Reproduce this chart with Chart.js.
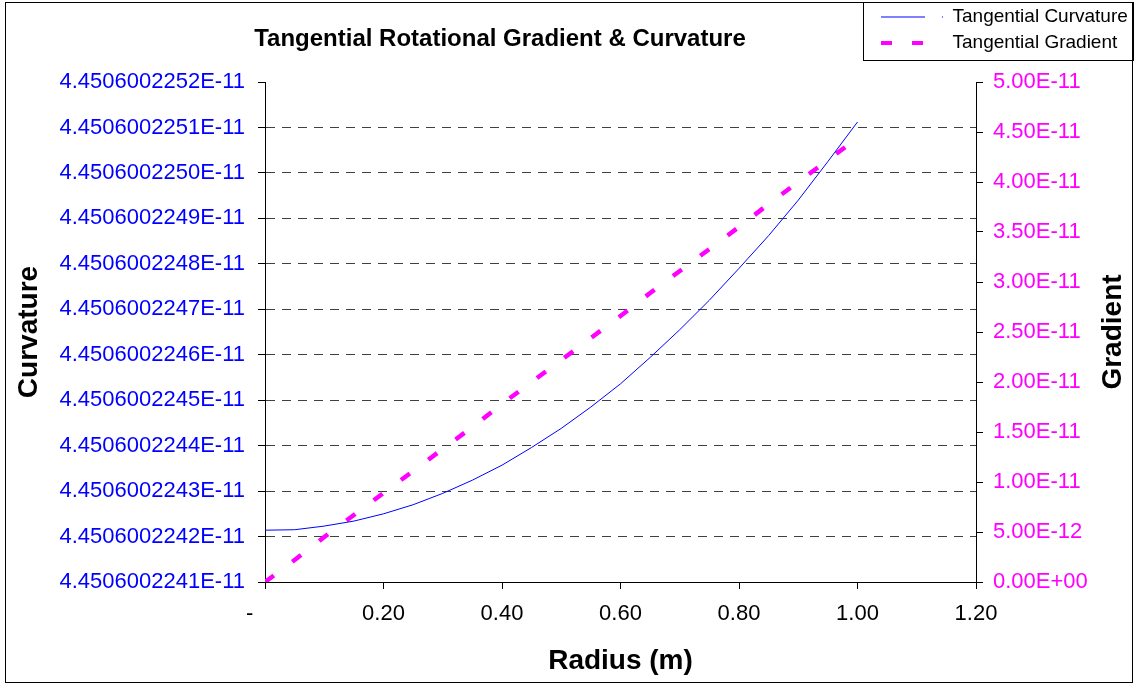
<!DOCTYPE html>
<html>
<head>
<meta charset="utf-8">
<script src="https://cdn.jsdelivr.net/npm/chart.js@4/dist/chart.umd.min.js"></script>
<style>
  html, body { margin: 0; padding: 0; background: #fff; }
  canvas { display: block; }
</style>
</head>
<body>
<canvas id="chart" width="1134" height="685"></canvas>
<script>
/* Tangential Rotational Gradient & Curvature */

const chartTitle = 'Tangential Rotational Gradient & Curvature';
const xAxisTitle = 'Radius (m)';
const leftAxisTitle = 'Curvature';
const rightAxisTitle = 'Gradient';

// radius (m)
const radius = [0.00, 0.05, 0.10, 0.15, 0.20, 0.25, 0.30, 0.35, 0.40, 0.45, 0.50,
                0.55, 0.60, 0.65, 0.70, 0.75, 0.80, 0.85, 0.90, 0.95, 1.00];

// Tangential Curvature (left axis)
const curvature = [
    4.450600224214e-11, 4.450600224215e-11, 4.450600224223e-11, 4.450600224234e-11,
    4.450600224250e-11, 4.450600224270e-11, 4.450600224295e-11, 4.450600224324e-11,
    4.450600224357e-11, 4.450600224396e-11, 4.450600224438e-11, 4.450600224485e-11,
    4.450600224536e-11, 4.450600224594e-11, 4.450600224655e-11, 4.450600224720e-11,
    4.450600224790e-11, 4.450600224862e-11, 4.450600224940e-11, 4.450600225025e-11,
    4.450600225112e-11
];

// Tangential Gradient (right axis)
const gradient = [
    0, 2.2e-12, 4.5e-12, 6.7e-12, 8.9e-12, 11.1e-12, 13.3e-12, 15.5e-12,
    17.8e-12, 20.0e-12, 22.2e-12, 24.4e-12, 26.6e-12, 28.9e-12, 31.1e-12,
    33.3e-12, 35.5e-12, 37.8e-12, 40.0e-12, 42.2e-12, 44.4e-12
];

// tick labels
const xTickLabels = ['-     ', '0.20', '0.40', '0.60', '0.80', '1.00', '1.20'];
const curvatureTicks = [
    '4.4506002241E-11', '4.4506002242E-11', '4.4506002243E-11', '4.4506002244E-11',
    '4.4506002245E-11', '4.4506002246E-11', '4.4506002247E-11', '4.4506002248E-11',
    '4.4506002249E-11', '4.4506002250E-11', '4.4506002251E-11', '4.4506002252E-11'
];
const gradientTicks = [
    '0.00E+00', '5.00E-12', '1.00E-11', '1.50E-11', '2.00E-11', '2.50E-11',
    '3.00E-11', '3.50E-11', '4.00E-11', '4.50E-11', '5.00E-11'
];

const FONT = '"Liberation Sans", Arial, sans-serif';
Chart.defaults.font.family = FONT;
Chart.defaults.color = '#000';

// Title / legend placement, outer frame and the right axis title
const framePlugin = {
    id: 'frame',
    afterLayout(chart) {
        const t = chart.titleBlock;
        if (t) {
            t.left = 250;
            t.right = 750;
            t.width = 500;
        }
        const lg = chart.legend;
        if (lg) {
            lg.left = 874;
            lg.right = 1134;
            lg.top = 0.5;
            lg.bottom = 62;
            lg.width = 260;
            lg.height = 61.5;
        }
    },
    afterDraw(chart) {
        const ctx = chart.ctx;
        ctx.save();
        ctx.strokeStyle = '#000';
        ctx.lineWidth = 1;
        ctx.strokeRect(5.5, 2.5, 1127, 680);
        ctx.strokeRect(863.5, 2.5, 270, 58);

        const y1 = chart.scales.y1;
        ctx.fillStyle = '#000';
        ctx.font = 'bold 28px ' + FONT;
        ctx.textAlign = 'center';
        ctx.textBaseline = 'middle';
        ctx.translate(1113, (y1.top + y1.bottom) / 2);
        ctx.rotate(-Math.PI / 2);
        ctx.fillText(rightAxisTitle, 0, 0);
        ctx.restore();
    }
};

const legendDash = [[44, 17, 1, 100], [11, 20]];

const ctx = document.getElementById('chart').getContext('2d');
new Chart(ctx, {
    type: 'line',
    data: {
        datasets: [
            {
                label: 'Tangential Curvature',
                data: radius.map((r, i) => ({ x: r, y: curvature[i] })),
                yAxisID: 'y',
                borderColor: '#0000FF',
                backgroundColor: '#0000FF',
                borderWidth: 1,
                pointRadius: 0,
                tension: 0,
                fill: false
            },
            {
                label: 'Tangential Gradient',
                data: radius.map((r, i) => ({ x: r, y: gradient[i] })),
                yAxisID: 'y1',
                borderColor: '#FF00FF',
                backgroundColor: '#FF00FF',
                borderWidth: 4.5,
                borderDash: [11, 23],
                pointRadius: 0,
                tension: 0,
                fill: false
            }
        ]
    },
    options: {
        responsive: false,
        animation: false,
        devicePixelRatio: 1,
        layout: { padding: { left: 5, right: 0, top: 2, bottom: 2 } },
        scales: {
            x: {
                type: 'linear',
                min: 0,
                max: 1.2,
                ticks: {
                    stepSize: 0.2,
                    color: '#000',
                    padding: 12,
                    maxRotation: 0,
                    font: { size: 22 },
                    callback: (v, i) => xTickLabels[i]
                },
                grid: { drawOnChartArea: false, tickLength: 7, tickColor: '#000' },
                border: { color: '#000', width: 1 },
                title: {
                    display: true,
                    text: xAxisTitle,
                    font: { size: 28, weight: 'bold' },
                    padding: { top: 0, bottom: 5 }
                },
                afterFit: s => { s.height = 101; }
            },
            y: {
                type: 'linear',
                position: 'left',
                min: 4.4506002241e-11,
                max: 4.4506002252e-11,
                bounds: 'data',
                ticks: {
                    stepSize: 1e-21,
                    color: '#0000FF',
                    padding: 13,
                    font: { size: 22 },
                    callback: (v, i) => curvatureTicks[i]
                },
                afterBuildTicks: s => {
                    s.ticks = curvatureTicks.map(t => ({ value: parseFloat(t) }));
                },
                grid: {
                    color: c => (c.index === 0 || c.index === curvatureTicks.length - 1) ? 'rgba(0,0,0,0)' : '#404040',
                    lineWidth: 1,
                    tickLength: 7,
                    tickColor: '#000',
                    tickBorderDash: []
                },
                border: { color: '#000', width: 1, dash: [9, 7] },
                title: {
                    display: true,
                    text: leftAxisTitle,
                    font: { size: 28, weight: 'bold' },
                    padding: { top: 7.5, bottom: 0 }
                },
                afterFit: s => { s.width = 260; }
            },
            y1: {
                type: 'linear',
                position: 'right',
                min: 0,
                max: 5e-11,
                bounds: 'data',
                ticks: {
                    stepSize: 5e-12,
                    color: '#FF00FF',
                    padding: 10,
                    font: { size: 22 },
                    callback: (v, i) => gradientTicks[i]
                },
                afterBuildTicks: s => {
                    s.ticks = gradientTicks.map(t => ({ value: parseFloat(t) }));
                },
                grid: { drawOnChartArea: false, tickLength: 7, tickColor: '#000' },
                border: { color: '#000', width: 1 },
                afterFit: s => { s.width = 158; }
            }
        },
        plugins: {
            title: {
                display: true,
                text: chartTitle,
                color: '#000',
                font: { size: 24, weight: 'bold' },
                padding: { top: 23.1, bottom: 28.1 }
            },
            legend: {
                display: true,
                position: 'chartArea',
                align: 'start',
                labels: {
                    usePointStyle: true,
                    pointStyleWidth: 62,
                    padding: 7,
                    color: '#000',
                    font: { size: 19 },
                    generateLabels: chart => chart.data.datasets.map((ds, i) => ({
                        text: ds.label,
                        datasetIndex: i,
                        pointStyle: 'line',
                        strokeStyle: ds.borderColor,
                        fillStyle: ds.borderColor,
                        lineWidth: i === 1 ? 4 : ds.borderWidth,
                        lineDash: legendDash[i],
                        lineDashOffset: 0,
                        fontColor: '#000',
                        hidden: false
                    }))
                }
            },
            tooltip: { enabled: false }
        }
    },
    plugins: [framePlugin]
});
</script>
</body>
</html>
